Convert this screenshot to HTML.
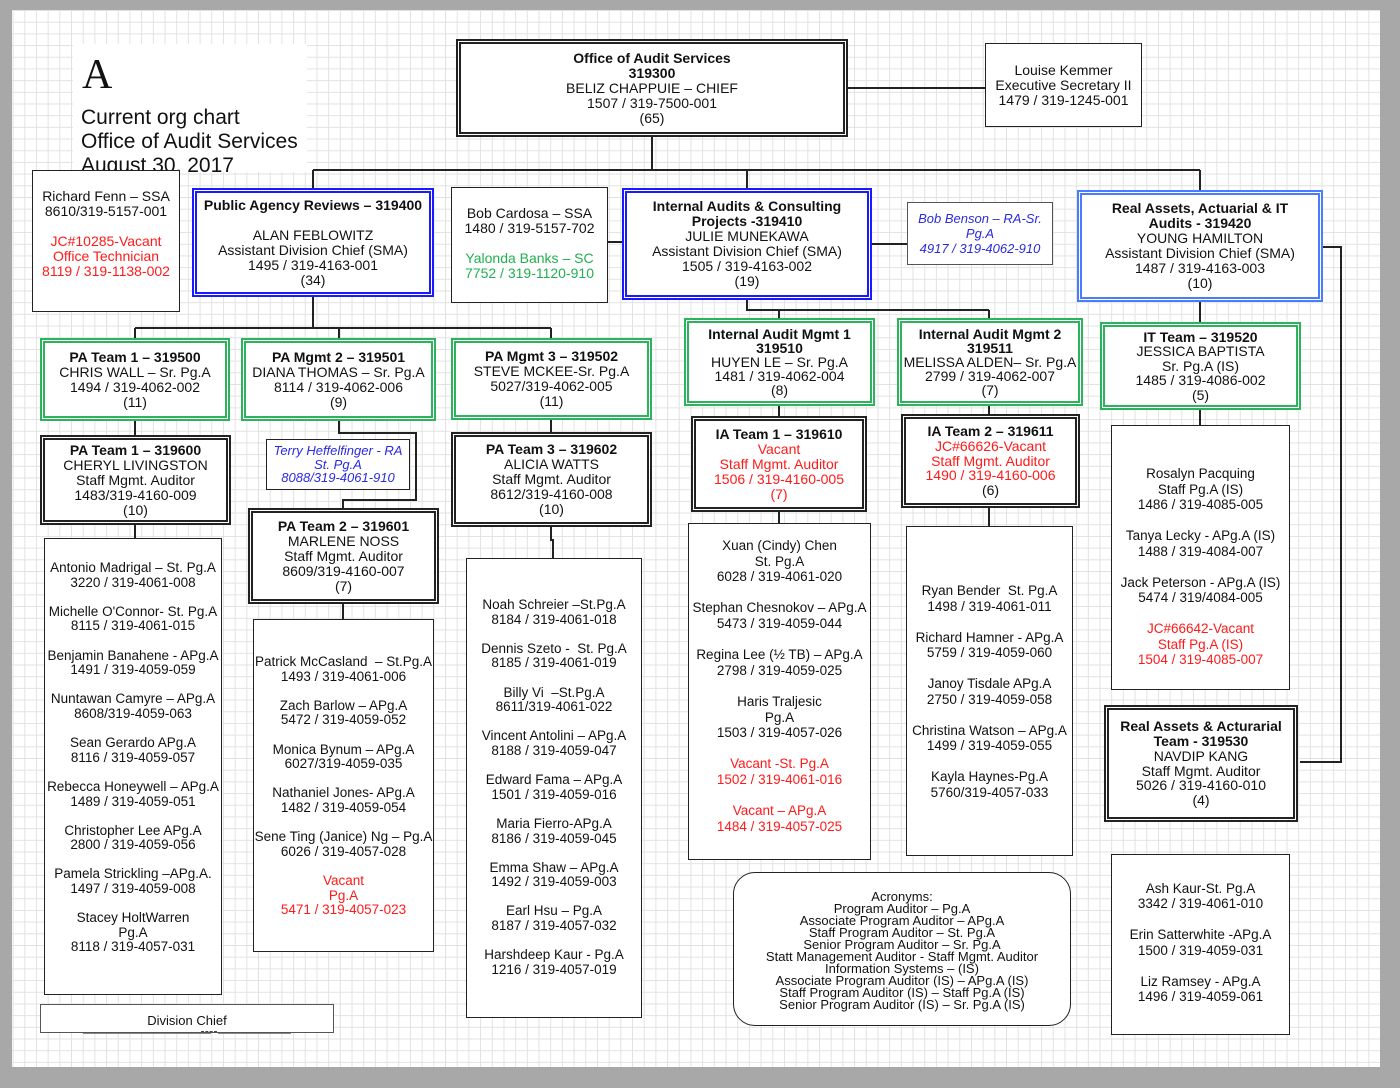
<!DOCTYPE html>
<html><head><meta charset="utf-8"><style>
*{margin:0;padding:0;box-sizing:border-box}
body{width:1400px;height:1088px;background:#a8a8a8;position:relative;overflow:hidden;font-family:"Liberation Sans",sans-serif;color:#111}
#page{position:absolute;left:12px;top:10px;width:1368px;height:1057px;background-color:#fff;
background-image:linear-gradient(to right,#e2e2e2 1px,transparent 1px),linear-gradient(to bottom,#e2e2e2 1px,transparent 1px);
background-size:11.7px 11.7px;background-position:0.6px 0px}
.b{position:absolute;background:#fff;display:flex;flex-direction:column;justify-content:center;text-align:center;font-size:14px;line-height:15px;border:1.5px solid #222;white-space:nowrap}
.dk{border:5px double #222}
.bl{border:5px double #1a1aff}
.lb{border:5px double #4a7cff}
.gr{border:5px double #2db35d}
.r{color:#ff1a1a}.g{color:#22b050}.i{color:#2a2ae0;font-style:italic;font-size:13px}
b{font-weight:bold}
.l{line-height:15.2px;font-size:13.5px}
svg{position:absolute;left:0;top:0}
</style></head><body>
<div id="page"></div>
<svg width="1400" height="1088" stroke="#222" stroke-width="2" fill="none">
<path d="M848 88H985M652 137V170M313 170H1200M313 170V188M747 170V188M1200 170V192"/>
<path d="M608 242H622M872 244H907M1323 247H1341V762H1300"/>
<path d="M313 297V328M135 328H551M135 328V338M339 328V338M551 328V338"/>
<path d="M135 421V435M135 525V538M339 421V433H416V500H343V508M343 604V619"/>
<path d="M551 420V432M551 527V540H553V558"/>
<path d="M747 300V310H779M779 310H989M779 310V318M989 310V318M779 406V416M779 512V523M989 406V414M989 508V526"/>
<path d="M1200 302V322M1200 410V425"/>
</svg>
<div style="position:absolute;left:73px;top:44px;width:234px;height:128px;background:#fff"></div>
<div style="position:absolute;left:82px;top:52px;font-family:'Liberation Serif',serif;font-size:42px;line-height:46px">A</div>
<div style="position:absolute;left:81px;top:106px;font-size:21px;line-height:24px;white-space:nowrap">Current org chart<br>Office of Audit Services<br>August 30, 2017</div>

<div class="b dk" style="left:456px;top:39px;width:392px;height:98px"><b>Office of Audit Services<br>319300</b>BELIZ CHAPPUIE – CHIEF<br>1507 / 319-7500-001<br>(65)</div>
<div class="b" style="left:985px;top:43px;width:157px;height:84px">Louise Kemmer<br>Executive Secretary II<br>1479 / 319-1245-001</div>

<div class="b" style="left:32px;top:170px;width:148px;height:142px;padding-bottom:14px">Richard Fenn – SSA<br>8610/319-5157-001<br><br><span class="r">JC#10285-Vacant<br>Office Technician<br>8119 / 319-1138-002</span></div>
<div class="b bl" style="left:192px;top:188px;width:242px;height:109px"><b>Public Agency Reviews – 319400</b><br>ALAN FEBLOWITZ<br>Assistant Division Chief (SMA)<br>1495 / 319-4163-001<br>(34)</div>
<div class="b" style="left:451px;top:187px;width:157px;height:116px;padding-bottom:4px">Bob Cardosa – SSA<br>1480 / 319-5157-702<br><br><span class="g">Yalonda Banks – SC<br>7752 / 319-1120-910</span></div>
<div class="b bl" style="left:622px;top:188px;width:250px;height:112px"><b>Internal Audits &amp; Consulting<br>Projects -319410</b>JULIE MUNEKAWA<br>Assistant Division Chief (SMA)<br>1505 / 319-4163-002<br>(19)</div>
<div class="b i" style="left:907px;top:202px;width:146px;height:63px;border-color:#555">Bob Benson – RA-Sr.<br>Pg.A<br>4917 / 319-4062-910</div>
<div class="b lb" style="left:1077px;top:190px;width:246px;height:112px"><b>Real Assets, Actuarial &amp; IT<br>Audits - 319420</b>YOUNG HAMILTON<br>Assistant Division Chief (SMA)<br>1487 / 319-4163-003<br>(10)</div>

<div class="b gr" style="left:40px;top:338px;width:190px;height:83px"><b>PA Team 1 – 319500</b>CHRIS WALL – Sr. Pg.A<br>1494 / 319-4062-002<br>(11)</div>
<div class="b gr" style="left:241px;top:338px;width:195px;height:83px"><b>PA Mgmt 2 – 319501</b>DIANA THOMAS – Sr. Pg.A<br>8114 / 319-4062-006<br>(9)</div>
<div class="b gr" style="left:451px;top:338px;width:201px;height:82px"><b>PA Mgmt 3 – 319502</b>STEVE MCKEE-Sr. Pg.A<br>5027/319-4062-005<br>(11)</div>

<div class="b dk" style="left:40px;top:435px;width:191px;height:90px"><b>PA Team 1 – 319600</b>CHERYL LIVINGSTON<br>Staff Mgmt. Auditor<br>1483/319-4160-009<br>(10)</div>
<div class="b i" style="left:266px;top:439px;width:144px;height:51px;line-height:13.5px">Terry Heffelfinger - RA<br>St. Pg.A<br>8088/319-4061-910</div>
<div class="b dk" style="left:248px;top:508px;width:191px;height:96px"><b>PA Team 2 – 319601</b>MARLENE NOSS<br>Staff Mgmt. Auditor<br>8609/319-4160-007<br>(7)</div>
<div class="b dk" style="left:451px;top:432px;width:201px;height:95px"><b>PA Team 3 – 319602</b>ALICIA WATTS<br>Staff Mgmt. Auditor<br>8612/319-4160-008<br>(10)</div>

<div class="b gr" style="left:684px;top:318px;width:191px;height:88px;line-height:14px"><b>Internal Audit Mgmt 1<br>319510</b>HUYEN LE – Sr. Pg.A<br>1481 / 319-4062-004<br>(8)</div>
<div class="b gr" style="left:897px;top:318px;width:186px;height:88px;line-height:14px"><b>Internal Audit Mgmt 2<br>319511</b>MELISSA ALDEN– Sr. Pg.A<br>2799 / 319-4062-007<br>(7)</div>
<div class="b gr" style="left:1100px;top:322px;width:201px;height:88px;line-height:14.5px"><b>IT Team – 319520</b>JESSICA BAPTISTA<br>Sr. Pg.A (IS)<br>1485 / 319-4086-002<br>(5)</div>

<div class="b dk" style="left:691px;top:416px;width:176px;height:96px"><b>IA Team 1 – 319610</b><span class="r">Vacant<br>Staff Mgmt. Auditor<br>1506 / 319-4160-005<br>(7)</span></div>
<div class="b dk" style="left:901px;top:414px;width:179px;height:94px;line-height:14.8px"><b>IA Team 2 – 319611</b><span class="r">JC#66626-Vacant<br>Staff Mgmt. Auditor<br>1490 / 319-4160-006</span>(6)</div>
<div class="b dk" style="left:1104px;top:705px;width:194px;height:117px;line-height:14.8px"><b>Real Assets &amp; Acturarial<br>Team - 319530</b>NAVDIP KANG<br>Staff Mgmt. Auditor<br>5026 / 319-4160-010<br>(4)</div>

<div class="b l" style="left:44px;top:538px;width:178px;height:457px;justify-content:flex-start;padding-top:22px;line-height:14.6px">Antonio Madrigal – St. Pg.A<br>3220 / 319-4061-008<br><br>Michelle O'Connor- St. Pg.A<br>8115 / 319-4061-015<br><br>Benjamin Banahene - APg.A<br>1491 / 319-4059-059<br><br>Nuntawan Camyre – APg.A<br>8608/319-4059-063<br><br>Sean Gerardo APg.A<br>8116 / 319-4059-057<br><br>Rebecca Honeywell – APg.A<br>1489 / 319-4059-051<br><br>Christopher Lee APg.A<br>2800 / 319-4059-056<br><br>Pamela Strickling –APg.A.<br>1497 / 319-4059-008<br><br>Stacey HoltWarren<br>Pg.A<br>8118 / 319-4057-031</div>

<div class="b l" style="left:253px;top:619px;width:181px;height:333px;justify-content:flex-start;padding-top:35px;line-height:14.6px">Patrick McCasland &nbsp;– St.Pg.A<br>1493 / 319-4061-006<br><br>Zach Barlow – APg.A<br>5472 / 319-4059-052<br><br>Monica Bynum – APg.A<br>6027/319-4059-035<br><br>Nathaniel Jones- APg.A<br>1482 / 319-4059-054<br><br>Sene Ting (Janice) Ng – Pg.A<br>6026 / 319-4057-028<br><br><span class="r">Vacant<br>Pg.A<br>5471 / 319-4057-023</span></div>

<div class="b l" style="left:466px;top:558px;width:176px;height:460px;justify-content:flex-start;padding-top:39px;line-height:14.6px">Noah Schreier –St.Pg.A<br>8184 / 319-4061-018<br><br>Dennis Szeto - &nbsp;St. Pg.A<br>8185 / 319-4061-019<br><br>Billy Vi &nbsp;–St.Pg.A<br>8611/319-4061-022<br><br>Vincent Antolini – APg.A<br>8188 / 319-4059-047<br><br>Edward Fama – APg.A<br>1501 / 319-4059-016<br><br>Maria Fierro-APg.A<br>8186 / 319-4059-045<br><br>Emma Shaw – APg.A<br>1492 / 319-4059-003<br><br>Earl Hsu – Pg.A<br>8187 / 319-4057-032<br><br>Harshdeep Kaur - Pg.A<br>1216 / 319-4057-019</div>

<div class="b l" style="left:688px;top:523px;width:183px;height:337px;justify-content:flex-start;padding-top:14px;line-height:15.6px">Xuan (Cindy) Chen<br>St. Pg.A<br>6028 / 319-4061-020<br><br>Stephan Chesnokov – APg.A<br>5473 / 319-4059-044<br><br>Regina Lee (½ TB) – APg.A<br>2798 / 319-4059-025<br><br>Haris Traljesic<br>Pg.A<br>1503 / 319-4057-026<br><br><span class="r">Vacant -St. Pg.A<br>1502 / 319-4061-016<br><br>Vacant – APg.A<br>1484 / 319-4057-025</span></div>

<div class="b l" style="left:906px;top:526px;width:167px;height:330px;justify-content:flex-start;padding-top:56px;line-height:15.5px">Ryan Bender &nbsp;St. Pg.A<br>1498 / 319-4061-011<br><br>Richard Hamner - APg.A<br>5759 / 319-4059-060<br><br>Janoy Tisdale APg.A<br>2750 / 319-4059-058<br><br>Christina Watson – APg.A<br>1499 / 319-4059-055<br><br>Kayla Haynes-Pg.A<br>5760/319-4057-033</div>

<div class="b l" style="left:1111px;top:425px;width:179px;height:265px;justify-content:flex-start;padding-top:40px;line-height:15.5px">Rosalyn Pacquing<br>Staff Pg.A (IS)<br>1486 / 319-4085-005<br><br>Tanya Lecky - APg.A (IS)<br>1488 / 319-4084-007<br><br>Jack Peterson - APg.A (IS)<br>5474 / 319/4084-005<br><br><span class="r">JC#66642-Vacant<br>Staff Pg.A (IS)<br>1504 / 319-4085-007</span></div>

<div class="b l" style="left:1111px;top:854px;width:179px;height:181px;line-height:15.5px;padding-bottom:4px">Ash Kaur-St. Pg.A<br>3342 / 319-4061-010<br><br>Erin Satterwhite -APg.A<br>1500 / 319-4059-031<br><br>Liz Ramsey - APg.A<br>1496 / 319-4059-061</div>

<div class="b" style="left:733px;top:872px;width:338px;height:154px;border-radius:22px;font-size:13px;line-height:12.1px;padding-top:4px">Acronyms:<br>Program Auditor – Pg.A<br>Associate Program Auditor – APg.A<br>Staff Program Auditor – St. Pg.A<br>Senior Program Auditor – Sr. Pg.A<br>Statt Management Auditor - Staff Mgmt. Auditor<br>Information Systems – (IS)<br>Associate Program Auditor (IS) – APg.A (IS)<br>Staff Program Auditor (IS) – Staff Pg.A (IS)<br>Senior Program Auditor (IS) – Sr. Pg.A (IS)</div>

<div class="b" style="left:40px;top:1004px;width:294px;height:29px;font-size:13px;padding-top:4px;border-color:#555">Division Chief</div>
<div style="position:absolute;left:83px;top:1033px;width:128px;border-top:1px solid #888"></div>
<div style="position:absolute;left:201px;top:1031px;width:16px;border-top:1px dashed #444"></div>
<div style="position:absolute;left:218px;top:1033px;width:73px;border-top:1px solid #888"></div>
</body></html>
